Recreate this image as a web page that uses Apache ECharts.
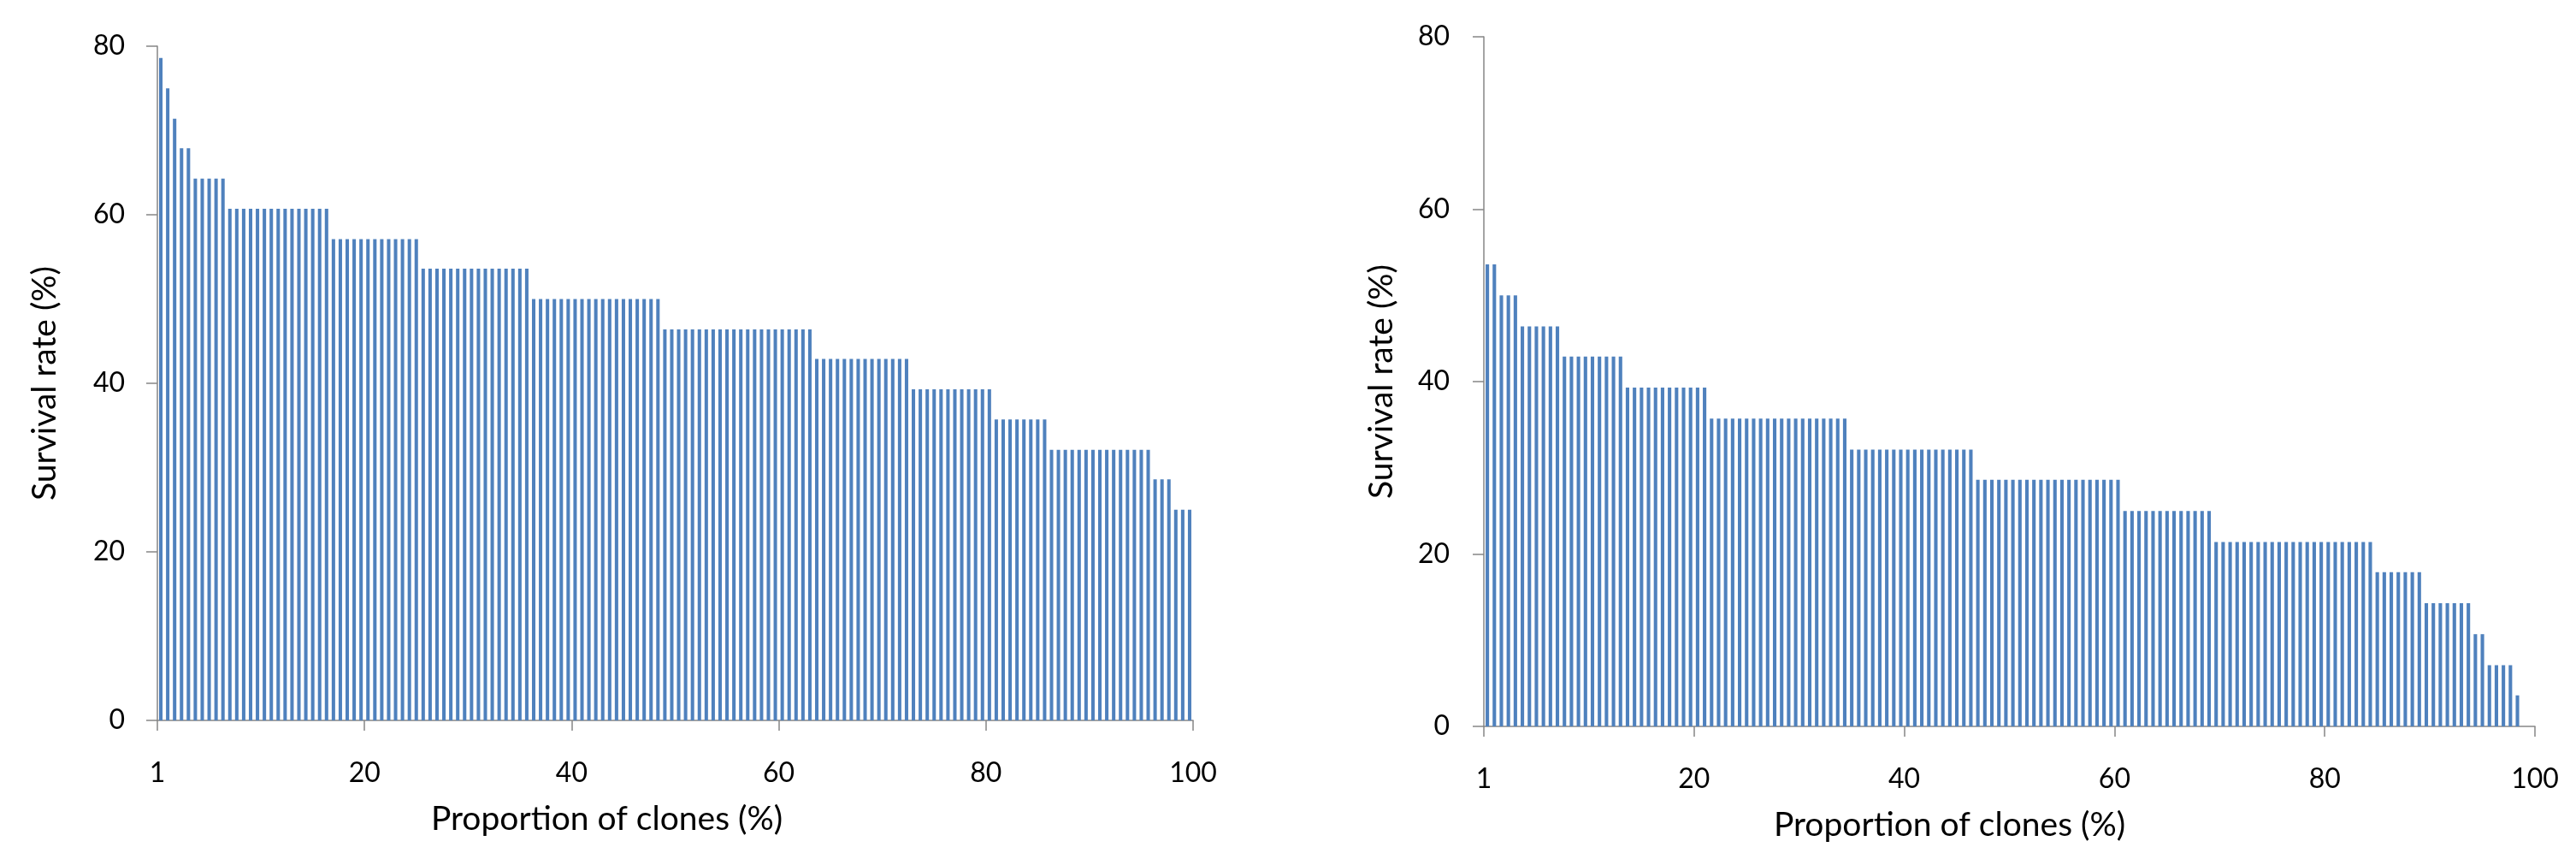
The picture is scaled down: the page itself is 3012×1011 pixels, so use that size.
<!DOCTYPE html>
<html>
<head>
<meta charset="utf-8">
<script src="https://cdn.jsdelivr.net/npm/echarts@6/dist/echarts.min.js"></script>
<style>
html,body{margin:0;padding:0;background:#fff;}
#chart{width:3012px;height:1011px;}
</style>
</head>
<body>
<div id="chart"></div>
<script>
// Survival rate (%) of each clone, sorted descending (150 clones per panel)
const survivalLeft = [
  78.6, 75.0, 71.4, 67.9, 67.9,
  64.3, 64.3, 64.3, 64.3, 64.3,
  60.7, 60.7, 60.7, 60.7, 60.7, 60.7, 60.7, 60.7, 60.7, 60.7, 60.7, 60.7, 60.7, 60.7, 60.7,
  57.1, 57.1, 57.1, 57.1, 57.1, 57.1, 57.1, 57.1, 57.1, 57.1, 57.1, 57.1, 57.1,
  53.6, 53.6, 53.6, 53.6, 53.6, 53.6, 53.6, 53.6, 53.6, 53.6, 53.6, 53.6, 53.6, 53.6, 53.6, 53.6,
  50.0, 50.0, 50.0, 50.0, 50.0, 50.0, 50.0, 50.0, 50.0, 50.0, 50.0, 50.0, 50.0, 50.0, 50.0, 50.0, 50.0, 50.0, 50.0,
  46.4, 46.4, 46.4, 46.4, 46.4, 46.4, 46.4, 46.4, 46.4, 46.4, 46.4, 46.4, 46.4, 46.4, 46.4, 46.4, 46.4, 46.4, 46.4, 46.4, 46.4, 46.4,
  42.9, 42.9, 42.9, 42.9, 42.9, 42.9, 42.9, 42.9, 42.9, 42.9, 42.9, 42.9, 42.9, 42.9,
  39.3, 39.3, 39.3, 39.3, 39.3, 39.3, 39.3, 39.3, 39.3, 39.3, 39.3, 39.3,
  35.7, 35.7, 35.7, 35.7, 35.7, 35.7, 35.7, 35.7,
  32.1, 32.1, 32.1, 32.1, 32.1, 32.1, 32.1, 32.1, 32.1, 32.1, 32.1, 32.1, 32.1, 32.1, 32.1,
  28.6, 28.6, 28.6,
  25.0, 25.0, 25.0
];
const survivalRight = [
  53.6, 53.6,
  50.0, 50.0, 50.0,
  46.4, 46.4, 46.4, 46.4, 46.4, 46.4,
  42.9, 42.9, 42.9, 42.9, 42.9, 42.9, 42.9, 42.9, 42.9,
  39.3, 39.3, 39.3, 39.3, 39.3, 39.3, 39.3, 39.3, 39.3, 39.3, 39.3, 39.3,
  35.7, 35.7, 35.7, 35.7, 35.7, 35.7, 35.7, 35.7, 35.7, 35.7, 35.7, 35.7, 35.7, 35.7, 35.7, 35.7, 35.7, 35.7, 35.7, 35.7,
  32.1, 32.1, 32.1, 32.1, 32.1, 32.1, 32.1, 32.1, 32.1, 32.1, 32.1, 32.1, 32.1, 32.1, 32.1, 32.1, 32.1, 32.1,
  28.6, 28.6, 28.6, 28.6, 28.6, 28.6, 28.6, 28.6, 28.6, 28.6, 28.6, 28.6, 28.6, 28.6, 28.6, 28.6, 28.6, 28.6, 28.6, 28.6, 28.6,
  25.0, 25.0, 25.0, 25.0, 25.0, 25.0, 25.0, 25.0, 25.0, 25.0, 25.0, 25.0, 25.0,
  21.4, 21.4, 21.4, 21.4, 21.4, 21.4, 21.4, 21.4, 21.4, 21.4, 21.4, 21.4, 21.4, 21.4, 21.4, 21.4, 21.4, 21.4, 21.4, 21.4, 21.4, 21.4, 21.4,
  17.9, 17.9, 17.9, 17.9, 17.9, 17.9, 17.9,
  14.3, 14.3, 14.3, 14.3, 14.3, 14.3, 14.3,
  10.7, 10.7,
  7.1, 7.1, 7.1, 7.1,
  3.6,
  0, 0
];
// clone rank categories
const clonesLeft = survivalLeft.map((_, i) => String(i + 1));
const clonesRight = survivalRight.map((_, i) => String(i + 1));
// axis tick labels
const xTickLabels = ['1', '20', '40', '60', '80', '100'];
const yTicks = [0, 20, 40, 60, 80];
const xTitle = 'Proportion of clones (%)';
const yTitle = 'Survival rate (%)';

const FONT = 'Lato';
const AXIS_COLOR = '#868686';
const BAR_COLOR = '#4F81BD';

const grids = [
  {left: 184, top: 54, width: 1211, height: 788},
  {left: 1735, top: 43, width: 1229, height: 806}
];
const yNameGap = [112, 100];
const yLabelMargin = [38, 40];
const xTitleShift = [80, 70];

function catAxis(gi, data) {
  return {type: 'category', gridIndex: gi, data: data, show: false, boundaryGap: true};
}
function valXAxis(gi) {
  return {
    type: 'value', gridIndex: gi, min: 0, max: 100, interval: 20, position: 'bottom',
    axisLine: {show: true, lineStyle: {color: AXIS_COLOR, width: 1.5}},
    axisTick: {show: true, inside: false, length: 12, lineStyle: {color: AXIS_COLOR, width: 1.5}},
    splitLine: {show: false},
    axisLabel: {
      margin: 46, color: '#000', fontFamily: FONT, fontSize: 32,
      formatter: v => xTickLabels[Math.round(v / 20)]
    },
    name: xTitle, nameLocation: 'middle', nameGap: 96,
    nameTextStyle: {color: '#000', fontFamily: FONT, fontSize: 39, padding: [0, 2 * xTitleShift[gi], 0, 0]}
  };
}
function yAxis(gi) {
  return {
    type: 'value', gridIndex: gi, min: yTicks[0], max: yTicks[yTicks.length - 1], interval: 20,
    axisLine: {show: true, lineStyle: {color: AXIS_COLOR, width: 1.5}},
    axisTick: {show: true, inside: false, length: 13, lineStyle: {color: AXIS_COLOR, width: 1.5}},
    splitLine: {show: false},
    axisLabel: {margin: yLabelMargin[gi], color: '#000', fontFamily: FONT, fontSize: 32},
    name: yTitle, nameLocation: 'middle', nameGap: yNameGap[gi], nameRotate: 90,
    nameTextStyle: {color: '#000', fontFamily: FONT, fontSize: 39}
  };
}

const chart = echarts.init(document.getElementById('chart'), null, {renderer: 'canvas'});
chart.setOption({
  animation: false,
  backgroundColor: '#ffffff',
  grid: grids,
  xAxis: [catAxis(0, clonesLeft), catAxis(1, clonesRight), valXAxis(0), valXAxis(1)],
  yAxis: [yAxis(0), yAxis(1)],
  series: [
    {type: 'bar', xAxisIndex: 0, yAxisIndex: 0, data: survivalLeft, barCategoryGap: '50%',
     itemStyle: {color: BAR_COLOR}},
    {type: 'bar', xAxisIndex: 1, yAxisIndex: 1, data: survivalRight, barCategoryGap: '50%',
     itemStyle: {color: BAR_COLOR}}
  ]
});
</script>
</body>
</html>
